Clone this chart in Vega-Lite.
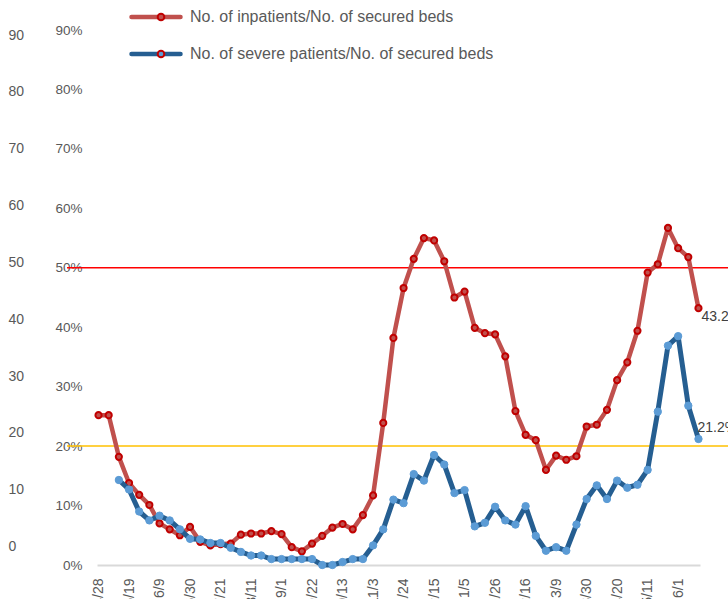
{
  "$schema": "https://vega.github.io/schema/vega-lite/v6.json",
  "width": 661,
  "height": 535,
  "autosize": {"type": "none"},
  "padding": {"left": 67, "top": 30, "right": 0, "bottom": 34},
  "background": "white",
  "config": {
    "view": {"stroke": null},
    "font": "Liberation Sans",
    "axis": {"labelFont": "Liberation Sans"},
    "legend": {"labelFont": "Liberation Sans"}
  },
  "data": {
    "values": [
      {"date": "2020-04-28", "series": "No. of inpatients/No. of secured beds", "value": 0.252},
      {"date": "2020-05-05", "series": "No. of inpatients/No. of secured beds", "value": 0.252},
      {"date": "2020-05-12", "series": "No. of inpatients/No. of secured beds", "value": 0.182},
      {"date": "2020-05-19", "series": "No. of inpatients/No. of secured beds", "value": 0.138},
      {"date": "2020-05-26", "series": "No. of inpatients/No. of secured beds", "value": 0.118},
      {"date": "2020-06-02", "series": "No. of inpatients/No. of secured beds", "value": 0.101},
      {"date": "2020-06-09", "series": "No. of inpatients/No. of secured beds", "value": 0.070},
      {"date": "2020-06-16", "series": "No. of inpatients/No. of secured beds", "value": 0.060},
      {"date": "2020-06-23", "series": "No. of inpatients/No. of secured beds", "value": 0.050},
      {"date": "2020-06-30", "series": "No. of inpatients/No. of secured beds", "value": 0.064},
      {"date": "2020-07-07", "series": "No. of inpatients/No. of secured beds", "value": 0.039},
      {"date": "2020-07-14", "series": "No. of inpatients/No. of secured beds", "value": 0.033},
      {"date": "2020-07-21", "series": "No. of inpatients/No. of secured beds", "value": 0.035},
      {"date": "2020-07-28", "series": "No. of inpatients/No. of secured beds", "value": 0.036},
      {"date": "2020-08-04", "series": "No. of inpatients/No. of secured beds", "value": 0.051},
      {"date": "2020-08-11", "series": "No. of inpatients/No. of secured beds", "value": 0.053},
      {"date": "2020-08-18", "series": "No. of inpatients/No. of secured beds", "value": 0.053},
      {"date": "2020-08-25", "series": "No. of inpatients/No. of secured beds", "value": 0.057},
      {"date": "2020-09-01", "series": "No. of inpatients/No. of secured beds", "value": 0.052},
      {"date": "2020-09-08", "series": "No. of inpatients/No. of secured beds", "value": 0.030},
      {"date": "2020-09-15", "series": "No. of inpatients/No. of secured beds", "value": 0.023},
      {"date": "2020-09-22", "series": "No. of inpatients/No. of secured beds", "value": 0.036},
      {"date": "2020-09-29", "series": "No. of inpatients/No. of secured beds", "value": 0.049},
      {"date": "2020-10-06", "series": "No. of inpatients/No. of secured beds", "value": 0.063},
      {"date": "2020-10-13", "series": "No. of inpatients/No. of secured beds", "value": 0.069},
      {"date": "2020-10-20", "series": "No. of inpatients/No. of secured beds", "value": 0.060},
      {"date": "2020-10-27", "series": "No. of inpatients/No. of secured beds", "value": 0.084},
      {"date": "2020-11-03", "series": "No. of inpatients/No. of secured beds", "value": 0.117},
      {"date": "2020-11-10", "series": "No. of inpatients/No. of secured beds", "value": 0.239},
      {"date": "2020-11-17", "series": "No. of inpatients/No. of secured beds", "value": 0.382},
      {"date": "2020-11-24", "series": "No. of inpatients/No. of secured beds", "value": 0.466},
      {"date": "2020-12-01", "series": "No. of inpatients/No. of secured beds", "value": 0.515},
      {"date": "2020-12-08", "series": "No. of inpatients/No. of secured beds", "value": 0.550},
      {"date": "2020-12-15", "series": "No. of inpatients/No. of secured beds", "value": 0.546},
      {"date": "2020-12-22", "series": "No. of inpatients/No. of secured beds", "value": 0.511},
      {"date": "2020-12-29", "series": "No. of inpatients/No. of secured beds", "value": 0.450},
      {"date": "2021-01-05", "series": "No. of inpatients/No. of secured beds", "value": 0.460},
      {"date": "2021-01-12", "series": "No. of inpatients/No. of secured beds", "value": 0.399},
      {"date": "2021-01-19", "series": "No. of inpatients/No. of secured beds", "value": 0.390},
      {"date": "2021-01-26", "series": "No. of inpatients/No. of secured beds", "value": 0.388},
      {"date": "2021-02-02", "series": "No. of inpatients/No. of secured beds", "value": 0.351},
      {"date": "2021-02-09", "series": "No. of inpatients/No. of secured beds", "value": 0.259},
      {"date": "2021-02-16", "series": "No. of inpatients/No. of secured beds", "value": 0.219},
      {"date": "2021-02-23", "series": "No. of inpatients/No. of secured beds", "value": 0.210},
      {"date": "2021-03-02", "series": "No. of inpatients/No. of secured beds", "value": 0.160},
      {"date": "2021-03-09", "series": "No. of inpatients/No. of secured beds", "value": 0.184},
      {"date": "2021-03-16", "series": "No. of inpatients/No. of secured beds", "value": 0.177},
      {"date": "2021-03-23", "series": "No. of inpatients/No. of secured beds", "value": 0.183},
      {"date": "2021-03-30", "series": "No. of inpatients/No. of secured beds", "value": 0.233},
      {"date": "2021-04-06", "series": "No. of inpatients/No. of secured beds", "value": 0.236},
      {"date": "2021-04-13", "series": "No. of inpatients/No. of secured beds", "value": 0.261},
      {"date": "2021-04-20", "series": "No. of inpatients/No. of secured beds", "value": 0.311},
      {"date": "2021-04-27", "series": "No. of inpatients/No. of secured beds", "value": 0.341},
      {"date": "2021-05-04", "series": "No. of inpatients/No. of secured beds", "value": 0.394},
      {"date": "2021-05-11", "series": "No. of inpatients/No. of secured beds", "value": 0.492},
      {"date": "2021-05-18", "series": "No. of inpatients/No. of secured beds", "value": 0.506},
      {"date": "2021-05-25", "series": "No. of inpatients/No. of secured beds", "value": 0.567},
      {"date": "2021-06-01", "series": "No. of inpatients/No. of secured beds", "value": 0.533},
      {"date": "2021-06-08", "series": "No. of inpatients/No. of secured beds", "value": 0.518},
      {"date": "2021-06-15", "series": "No. of inpatients/No. of secured beds", "value": 0.432},
      {"date": "2020-05-12", "series": "No. of severe patients/No. of secured beds", "value": 0.143},
      {"date": "2020-05-19", "series": "No. of severe patients/No. of secured beds", "value": 0.127},
      {"date": "2020-05-26", "series": "No. of severe patients/No. of secured beds", "value": 0.090},
      {"date": "2020-06-02", "series": "No. of severe patients/No. of secured beds", "value": 0.075},
      {"date": "2020-06-09", "series": "No. of severe patients/No. of secured beds", "value": 0.083},
      {"date": "2020-06-16", "series": "No. of severe patients/No. of secured beds", "value": 0.075},
      {"date": "2020-06-23", "series": "No. of severe patients/No. of secured beds", "value": 0.060},
      {"date": "2020-06-30", "series": "No. of severe patients/No. of secured beds", "value": 0.044},
      {"date": "2020-07-07", "series": "No. of severe patients/No. of secured beds", "value": 0.043},
      {"date": "2020-07-14", "series": "No. of severe patients/No. of secured beds", "value": 0.037},
      {"date": "2020-07-21", "series": "No. of severe patients/No. of secured beds", "value": 0.037},
      {"date": "2020-07-28", "series": "No. of severe patients/No. of secured beds", "value": 0.029},
      {"date": "2020-08-04", "series": "No. of severe patients/No. of secured beds", "value": 0.022},
      {"date": "2020-08-11", "series": "No. of severe patients/No. of secured beds", "value": 0.016},
      {"date": "2020-08-18", "series": "No. of severe patients/No. of secured beds", "value": 0.016},
      {"date": "2020-08-25", "series": "No. of severe patients/No. of secured beds", "value": 0.010},
      {"date": "2020-09-01", "series": "No. of severe patients/No. of secured beds", "value": 0.010},
      {"date": "2020-09-08", "series": "No. of severe patients/No. of secured beds", "value": 0.010},
      {"date": "2020-09-15", "series": "No. of severe patients/No. of secured beds", "value": 0.010},
      {"date": "2020-09-22", "series": "No. of severe patients/No. of secured beds", "value": 0.010},
      {"date": "2020-09-29", "series": "No. of severe patients/No. of secured beds", "value": 0.000},
      {"date": "2020-10-06", "series": "No. of severe patients/No. of secured beds", "value": 0.000},
      {"date": "2020-10-13", "series": "No. of severe patients/No. of secured beds", "value": 0.005},
      {"date": "2020-10-20", "series": "No. of severe patients/No. of secured beds", "value": 0.010},
      {"date": "2020-10-27", "series": "No. of severe patients/No. of secured beds", "value": 0.010},
      {"date": "2020-11-03", "series": "No. of severe patients/No. of secured beds", "value": 0.033},
      {"date": "2020-11-10", "series": "No. of severe patients/No. of secured beds", "value": 0.060},
      {"date": "2020-11-17", "series": "No. of severe patients/No. of secured beds", "value": 0.110},
      {"date": "2020-11-24", "series": "No. of severe patients/No. of secured beds", "value": 0.104},
      {"date": "2020-12-01", "series": "No. of severe patients/No. of secured beds", "value": 0.153},
      {"date": "2020-12-08", "series": "No. of severe patients/No. of secured beds", "value": 0.142},
      {"date": "2020-12-15", "series": "No. of severe patients/No. of secured beds", "value": 0.185},
      {"date": "2020-12-22", "series": "No. of severe patients/No. of secured beds", "value": 0.169},
      {"date": "2020-12-29", "series": "No. of severe patients/No. of secured beds", "value": 0.121},
      {"date": "2021-01-05", "series": "No. of severe patients/No. of secured beds", "value": 0.126},
      {"date": "2021-01-12", "series": "No. of severe patients/No. of secured beds", "value": 0.065},
      {"date": "2021-01-19", "series": "No. of severe patients/No. of secured beds", "value": 0.071},
      {"date": "2021-01-26", "series": "No. of severe patients/No. of secured beds", "value": 0.098},
      {"date": "2021-02-02", "series": "No. of severe patients/No. of secured beds", "value": 0.075},
      {"date": "2021-02-09", "series": "No. of severe patients/No. of secured beds", "value": 0.068},
      {"date": "2021-02-16", "series": "No. of severe patients/No. of secured beds", "value": 0.099},
      {"date": "2021-02-23", "series": "No. of severe patients/No. of secured beds", "value": 0.049},
      {"date": "2021-03-02", "series": "No. of severe patients/No. of secured beds", "value": 0.024},
      {"date": "2021-03-09", "series": "No. of severe patients/No. of secured beds", "value": 0.030},
      {"date": "2021-03-16", "series": "No. of severe patients/No. of secured beds", "value": 0.024},
      {"date": "2021-03-23", "series": "No. of severe patients/No. of secured beds", "value": 0.068},
      {"date": "2021-03-30", "series": "No. of severe patients/No. of secured beds", "value": 0.111},
      {"date": "2021-04-06", "series": "No. of severe patients/No. of secured beds", "value": 0.134},
      {"date": "2021-04-13", "series": "No. of severe patients/No. of secured beds", "value": 0.111},
      {"date": "2021-04-20", "series": "No. of severe patients/No. of secured beds", "value": 0.142},
      {"date": "2021-04-27", "series": "No. of severe patients/No. of secured beds", "value": 0.130},
      {"date": "2021-05-04", "series": "No. of severe patients/No. of secured beds", "value": 0.135},
      {"date": "2021-05-11", "series": "No. of severe patients/No. of secured beds", "value": 0.160},
      {"date": "2021-05-18", "series": "No. of severe patients/No. of secured beds", "value": 0.258},
      {"date": "2021-05-25", "series": "No. of severe patients/No. of secured beds", "value": 0.369},
      {"date": "2021-06-01", "series": "No. of severe patients/No. of secured beds", "value": 0.385},
      {"date": "2021-06-08", "series": "No. of severe patients/No. of secured beds", "value": 0.268},
      {"date": "2021-06-15", "series": "No. of severe patients/No. of secured beds", "value": 0.212}
    ]
  },
  "layer": [
    {
      "layer": [
        {
          "data": {"values": [{}]},
          "mark": {"type": "rule", "color": "#FF0000", "strokeWidth": 1.5},
          "encoding": {"y": {"datum": 0.5, "type": "quantitative"}}
        },
        {
          "data": {"values": [{}]},
          "mark": {"type": "rule", "color": "#FFC000", "strokeWidth": 1.5},
          "encoding": {"y": {"datum": 0.2, "type": "quantitative"}}
        },
        {
          "transform": [{"filter": "datum.series === 'No. of inpatients/No. of secured beds'"}],
          "mark": {"type": "line", "strokeWidth": 4.5, "strokeJoin": "round", "strokeCap": "round"},
          "encoding": {
            "x": {
              "field": "date", "type": "ordinal",
              "scale": {"type": "point", "range": [30, 633], "padding": 0.15},
              "axis": {
                "values": ["2020-04-28","2020-05-19","2020-06-09","2020-06-30","2020-07-21","2020-08-11","2020-09-01","2020-09-22","2020-10-13","2020-11-03","2020-11-24","2020-12-15","2021-01-05","2021-01-26","2021-02-16","2021-03-09","2021-03-30","2021-04-20","2021-05-11","2021-06-01"],
                "labelExpr": "toNumber(slice(datum.value,5,7)) + '/' + toNumber(slice(datum.value,8,10))",
                "labelAngle": -90, "labelAlign": "right", "labelBaseline": "middle",
                "labelPadding": 13, "ticks": false, "grid": false, "title": null,
                "domainColor": "#D9D9D9", "domainWidth": 2,
                "labelColor": "#595959", "labelFontSize": 14, "labelOverlap": false
              }
            },
            "y": {
              "field": "value", "type": "quantitative",
              "scale": {"domain": [0, 0.9], "nice": false, "zero": true},
              "axis": {
                "orient": "left",
                "values": [0, 0.1, 0.2, 0.3, 0.4, 0.5, 0.6, 0.7, 0.8, 0.9],
                "format": ".0%", "labelAlign": "right", "labelPadding": -15,
                "ticks": false, "domain": false, "grid": false, "title": null,
                "labelColor": "#595959", "labelFontSize": 13.5
              }
            },
            "stroke": {
              "field": "series", "type": "nominal",
              "scale": {"domain": ["No. of inpatients/No. of secured beds", "No. of severe patients/No. of secured beds"], "range": ["#C0504D", "#255E91"]},
              "legend": {
                "orient": "none", "legendX": 62, "legendY": -23, "title": null,
                "symbolType": "stroke", "symbolSize": 2401, "symbolStrokeWidth": 4.5,
                "labelFontSize": 16, "labelColor": "#595959", "labelOffset": 7, "labelLimit": 500,
                "rowPadding": 17, "clipHeight": 20, "padding": 0,
                "encode": {"symbols": {"update": {"strokeCap": {"value": "round"}}}}
              }
            }
          }
        },
        {
          "transform": [{"filter": "datum.series === 'No. of inpatients/No. of secured beds'"}],
          "mark": {"type": "circle", "size": 38, "stroke": "#C00000", "strokeWidth": 2, "opacity": 1},
          "encoding": {
            "x": {"field": "date", "type": "ordinal"},
            "y": {"field": "value", "type": "quantitative"},
            "fill": {
              "field": "series", "type": "nominal",
              "scale": {"range": ["#C0504D", "#5B9BD5"]},
              "legend": {
                "orient": "none", "legendX": 86, "legendY": -23, "title": null,
                "symbolType": "circle", "symbolSize": 44, "symbolStrokeWidth": 2,
                "labelExpr": "''", "labelFontSize": 16,
                "rowPadding": 17, "clipHeight": 20, "padding": 0,
                "encode": {"symbols": {"update": {
                  "stroke": {"signal": "datum.value === 'No. of inpatients/No. of secured beds' ? '#C00000' : '#5B9BD5'"},
                  "fill": {"signal": "datum.value === 'No. of inpatients/No. of secured beds' ? '#C0504D' : '#5B9BD5'"},
                  "opacity": {"value": 1}
                }}}
              }
            }
          }
        },
        {
          "transform": [{"filter": "datum.series === 'No. of severe patients/No. of secured beds'"}],
          "mark": {"type": "line", "strokeWidth": 5, "strokeJoin": "round", "strokeCap": "round"},
          "encoding": {
            "x": {"field": "date", "type": "ordinal"},
            "y": {"field": "value", "type": "quantitative"},
            "stroke": {
              "field": "series", "type": "nominal",
              "scale": {"domain": ["No. of inpatients/No. of secured beds", "No. of severe patients/No. of secured beds"], "range": ["#C0504D", "#255E91"]}
            }
          }
        },
        {
          "transform": [{"filter": "datum.series === 'No. of severe patients/No. of secured beds'"}],
          "mark": {"type": "circle", "size": 54, "stroke": "#5B9BD5", "strokeWidth": 1, "opacity": 1},
          "encoding": {
            "x": {"field": "date", "type": "ordinal"},
            "y": {"field": "value", "type": "quantitative"},
            "fill": {"field": "series", "type": "nominal", "scale": {"range": ["#C0504D", "#5B9BD5"]}}
          }
        },
        {
          "transform": [{"filter": "datum.series === 'No. of inpatients/No. of secured beds' && datum.date === '2021-06-15'"}],
          "mark": {"type": "text", "align": "left", "baseline": "middle", "dx": 3, "dy": 9, "fontSize": 14, "color": "#404040"},
          "encoding": {
            "x": {"field": "date", "type": "ordinal"},
            "y": {"field": "value", "type": "quantitative"},
            "text": {"field": "value", "type": "quantitative", "format": ".1%"}
          }
        },
        {
          "transform": [{"filter": "datum.series === 'No. of severe patients/No. of secured beds' && datum.date === '2021-06-15'"}],
          "mark": {"type": "text", "align": "left", "baseline": "middle", "dx": -1, "dy": -11, "fontSize": 14, "color": "#404040"},
          "encoding": {
            "x": {"field": "date", "type": "ordinal"},
            "y": {"field": "value", "type": "quantitative"},
            "text": {"field": "value", "type": "quantitative", "format": ".1%"}
          }
        }
      ]
    },
    {
      "data": {"values": [{}]},
      "mark": {"type": "point", "opacity": 0},
      "encoding": {
        "y": {
          "datum": 0, "type": "quantitative",
          "scale": {"domain": [-3.22, 90.88], "nice": false, "zero": false},
          "axis": {
            "orient": "left",
            "values": [0, 10, 20, 30, 40, 50, 60, 70, 80, 90],
            "labelAlign": "left", "labelPadding": 59,
            "ticks": false, "domain": false, "grid": false, "title": null,
            "labelColor": "#595959", "labelFontSize": 14
          }
        }
      }
    }
  ],
  "resolve": {"scale": {"y": "independent"}}
}
